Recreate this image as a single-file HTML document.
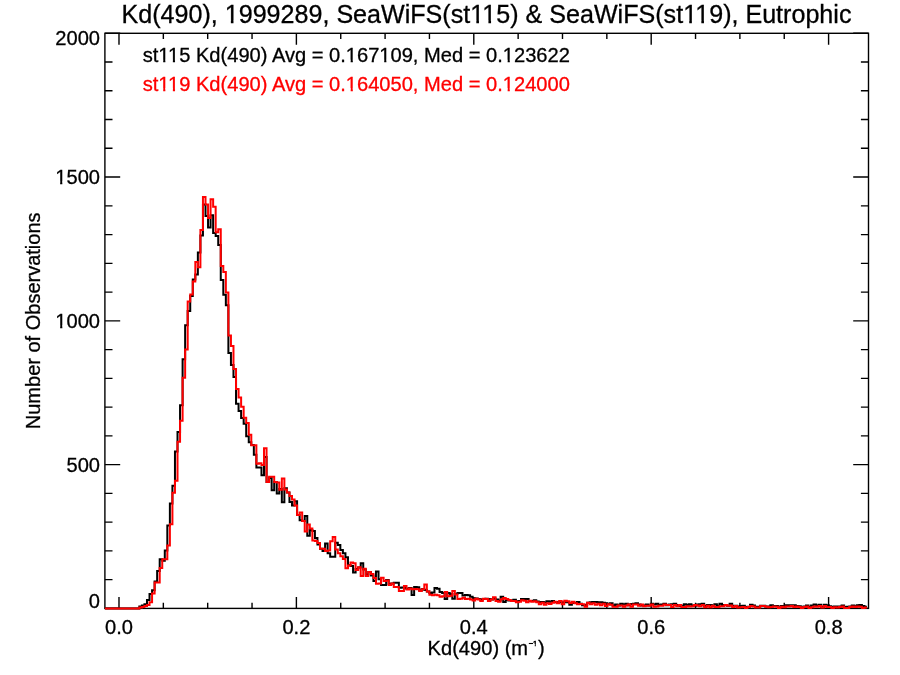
<!DOCTYPE html><html><head><meta charset="utf-8"><style>html,body{margin:0;padding:0;background:#fff;}svg{display:block;will-change:transform;}text{font-family:"Liberation Sans",sans-serif;stroke-width:0.3px;}</style></head><body>
<svg width="900" height="675" viewBox="0 0 900 675">
<rect x="0" y="0" width="900" height="675" fill="#fff"/>
<text x="486.5" y="23.4" font-size="25.1" text-anchor="middle" fill="#000" stroke="#000">Kd(490), 1999289, SeaWiFS(st115) &amp; SeaWiFS(st119), Eutrophic</text>
<text x="142.7" y="62.2" font-size="20.1" fill="#000" stroke="#000">st115 Kd(490) Avg = 0.167109, Med = 0.123622</text>
<text x="142.7" y="90.6" font-size="20.1" fill="#f00" stroke="#f00">st119 Kd(490) Avg = 0.164050, Med = 0.124000</text>
<text x="100" y="608.3" font-size="20.1" text-anchor="end" fill="#000" stroke="#000">0</text>
<text x="100" y="471.8" font-size="20.1" text-anchor="end" fill="#000" stroke="#000">500</text>
<text x="100" y="327.8" font-size="20.1" text-anchor="end" fill="#000" stroke="#000">1000</text>
<text x="100" y="183.8" font-size="20.1" text-anchor="end" fill="#000" stroke="#000">1500</text>
<text x="100" y="45.1" font-size="20.1" text-anchor="end" fill="#000" stroke="#000">2000</text>
<text x="119.0" y="633.6" font-size="20.1" text-anchor="middle" fill="#000" stroke="#000">0.0</text>
<text x="296.4" y="633.6" font-size="20.1" text-anchor="middle" fill="#000" stroke="#000">0.2</text>
<text x="473.8" y="633.6" font-size="20.1" text-anchor="middle" fill="#000" stroke="#000">0.4</text>
<text x="651.2" y="633.6" font-size="20.1" text-anchor="middle" fill="#000" stroke="#000">0.6</text>
<text x="828.6" y="633.6" font-size="20.1" text-anchor="middle" fill="#000" stroke="#000">0.8</text>
<text x="427.6" y="655.1" font-size="20.1" fill="#000" stroke="#000">Kd(490) (m<tspan font-size="7.5" dy="-9.6" dx="0.6" stroke-width="0.55">&#8722;1</tspan><tspan dy="9.6" dx="0.8">)</tspan></text>
<text transform="translate(39.9,427.6) rotate(-90)" x="-1.6" y="0" font-size="20.0" fill="#000" stroke="#000">Number of Observations</text>
<rect x="225.75" y="20.62" width="5.10" height="4.28" fill="#fff"/>
<rect x="233.47" y="20.62" width="4.90" height="4.28" fill="#fff"/>
<rect x="471.24" y="20.62" width="5.10" height="4.28" fill="#fff"/>
<rect x="478.96" y="20.62" width="4.90" height="4.28" fill="#fff"/>
<rect x="483.33" y="20.62" width="5.10" height="4.28" fill="#fff"/>
<rect x="491.05" y="20.62" width="4.90" height="4.28" fill="#fff"/>
<rect x="684.14" y="20.62" width="5.10" height="4.28" fill="#fff"/>
<rect x="691.86" y="20.62" width="4.90" height="4.28" fill="#fff"/>
<rect x="696.24" y="20.62" width="5.10" height="4.28" fill="#fff"/>
<rect x="703.96" y="20.62" width="4.90" height="4.28" fill="#fff"/>
<rect x="158.96" y="59.80" width="4.22" height="3.90" fill="#fff"/>
<rect x="165.36" y="59.80" width="4.07" height="3.90" fill="#fff"/>
<rect x="168.64" y="59.80" width="4.22" height="3.90" fill="#fff"/>
<rect x="175.04" y="59.80" width="4.07" height="3.90" fill="#fff"/>
<rect x="346.44" y="59.80" width="4.22" height="3.90" fill="#fff"/>
<rect x="352.84" y="59.80" width="4.07" height="3.90" fill="#fff"/>
<rect x="379.97" y="59.80" width="4.22" height="3.90" fill="#fff"/>
<rect x="386.37" y="59.80" width="4.07" height="3.90" fill="#fff"/>
<rect x="503.41" y="59.80" width="4.22" height="3.90" fill="#fff"/>
<rect x="509.81" y="59.80" width="4.07" height="3.90" fill="#fff"/>
<rect x="158.96" y="88.20" width="4.22" height="3.90" fill="#fff"/>
<rect x="165.36" y="88.20" width="4.07" height="3.90" fill="#fff"/>
<rect x="168.64" y="88.20" width="4.22" height="3.90" fill="#fff"/>
<rect x="175.04" y="88.20" width="4.07" height="3.90" fill="#fff"/>
<rect x="346.44" y="88.20" width="4.22" height="3.90" fill="#fff"/>
<rect x="352.84" y="88.20" width="4.07" height="3.90" fill="#fff"/>
<rect x="503.41" y="88.20" width="4.22" height="3.90" fill="#fff"/>
<rect x="509.81" y="88.20" width="4.07" height="3.90" fill="#fff"/>
<rect x="55.93" y="325.40" width="4.22" height="3.90" fill="#fff"/>
<rect x="62.33" y="325.40" width="4.07" height="3.90" fill="#fff"/>
<rect x="55.93" y="181.40" width="4.22" height="3.90" fill="#fff"/>
<rect x="62.33" y="181.40" width="4.07" height="3.90" fill="#fff"/>
<rect x="532.75" y="644.04" width="2.01" height="2.96" fill="#fff"/>
<rect x="535.82" y="644.04" width="1.96" height="2.96" fill="#fff"/>
<path d="M118.99 608.4V596.90M118.99 33.3V44.80M163.34 608.4V602.65M163.34 33.3V39.05M207.69 608.4V602.65M207.69 33.3V39.05M252.04 608.4V602.65M252.04 33.3V39.05M296.39 608.4V596.90M296.39 33.3V44.80M340.74 608.4V602.65M340.74 33.3V39.05M385.09 608.4V602.65M385.09 33.3V39.05M429.44 608.4V602.65M429.44 33.3V39.05M473.79 608.4V596.90M473.79 33.3V44.80M518.14 608.4V602.65M518.14 33.3V39.05M562.49 608.4V602.65M562.49 33.3V39.05M606.84 608.4V602.65M606.84 33.3V39.05M651.19 608.4V596.90M651.19 33.3V44.80M695.54 608.4V602.65M695.54 33.3V39.05M739.89 608.4V602.65M739.89 33.3V39.05M784.24 608.4V602.65M784.24 33.3V39.05M828.59 608.4V596.90M828.59 33.3V44.80M104.9 608.40H120.20M868.5 608.40H853.20M104.9 579.64H112.50M868.5 579.64H860.90M104.9 550.89H112.50M868.5 550.89H860.90M104.9 522.13H112.50M868.5 522.13H860.90M104.9 493.38H112.50M868.5 493.38H860.90M104.9 464.62H120.20M868.5 464.62H853.20M104.9 435.87H112.50M868.5 435.87H860.90M104.9 407.12H112.50M868.5 407.12H860.90M104.9 378.36H112.50M868.5 378.36H860.90M104.9 349.60H112.50M868.5 349.60H860.90M104.9 320.85H120.20M868.5 320.85H853.20M104.9 292.09H112.50M868.5 292.09H860.90M104.9 263.34H112.50M868.5 263.34H860.90M104.9 234.58H112.50M868.5 234.58H860.90M104.9 205.83H112.50M868.5 205.83H860.90M104.9 177.07H120.20M868.5 177.07H853.20M104.9 148.32H112.50M868.5 148.32H860.90M104.9 119.56H112.50M868.5 119.56H860.90M104.9 90.81H112.50M868.5 90.81H860.90M104.9 62.05H112.50M868.5 62.05H860.90M104.9 33.30H120.20M868.5 33.30H853.20" stroke="#000" stroke-width="1.4" fill="none"/>
<rect x="104.9" y="33.3" width="763.60" height="575.10" stroke="#000" stroke-width="1.4" fill="none"/>
<path d="M104.9 608.4H139.34V606.5H141.89V605.6H144.43V604.3H146.98V600.1H149.52V593.9H152.07V590.3H154.61V581.5H157.15V571.1H159.70V559.2H162.24V560.7H164.79V550.4H167.33V525.5H169.88V503.5H172.42V485.8H174.96V451.4H177.51V431.9H180.05V405.2H182.60V359.3H185.14V325.2H187.69V311.0H190.23V296.0H192.77V279.5H195.32V274.4H197.86V252.4H200.41V235.5H202.95V204.4H205.50V216.0H208.04V227.4H210.58V215.2H213.13V233.0H215.67V236.0H218.22V245.0H220.76V280.0H223.31V294.8H225.85V305.2H228.39V353.0H230.94V365.0H233.48V377.0H236.03V403.7H238.57V411.0H241.12V418.0H243.66V423.7H246.20V436.3H248.75V442.2H251.29V445.0H253.84V454.8H256.38V467.4H258.93V467.4H261.47V475.3H264.02V457.0H266.56V482.0H269.10V478.0H271.65V490.3H274.19V482.0H276.74V493.4H279.28V489.0H281.83V502.2H284.37V488.3H286.91V492.4H289.46V502.0H292.00V505.5H294.55V501.3H297.09V515.0H299.64V520.3H302.18V520.9H304.72V516.1H307.27V535.7H309.81V530.0H312.36V531.0H314.90V538.0H317.45V544.5H319.99V548.7H322.53V551.1H325.08V543.4H327.62V553.2H330.17V556.8H332.71V556.8H335.26V542.8H337.80V545.0H340.34V550.0H342.89V553.2H345.43V557.3H347.98V565.0H350.52V566.0H353.07V572.4H355.61V569.0H358.15V567.5H360.70V563.3H363.24V569.5H365.79V574.5H368.33V572.0H370.88V575.5H373.42V581.0H375.96V571.5H378.51V579.2H381.05V584.9H383.60V584.9H386.14V580.1H388.69V584.0H391.23V583.5H393.77V582.8H396.32V582.8H398.86V587.8H401.41V587.5H403.95V588.0H406.50V589.0H409.04V588.0H411.58V594.9H414.13V586.9H416.67V587.2H419.22V590.4H421.76V589.0H424.31V590.0H426.85V591.5H429.39V593.1H431.94V592.5H434.48V588.0H437.03V588.8H439.57V592.0H442.12V593.0H444.66V598.9H447.20V593.0H449.75V594.0H452.29V598.7H454.84V594.0H457.38V592.9H459.93V593.0H462.47V595.6H465.01V595.1H467.56V595.3H470.10V596.7H472.65V598.2H475.19V598.5H477.74V599.0H480.28V599.5H482.82V599.0H485.37V598.7H487.91V599.1H490.46V599.5H493.00V598.5H495.55V599.5H498.09V600.5H500.63V596.7H503.18V602.0H505.72V600.0H508.27V600.5H510.81V600.5H513.36V599.7H515.90V601.5H518.45V601.0H520.99V599.0H523.53V599.0H526.08V599.0H528.62V601.0H531.17V601.0H533.71V600.3H536.26V601.5H538.80V602.0H541.34V602.0H543.89V602.5H546.43V601.3H548.98V601.7H551.52V601.0H554.07V602.0H556.61V602.3H559.15V602.3H561.70V602.3H564.24V602.3H566.79V602.3H569.33V604.7H571.88V603.0H574.42V602.7H576.96V602.0H579.51V603.7H582.05V605.3H584.60V605.0H587.14V602.7H589.69V602.3H592.23V602.0H594.77V602.0H597.32V602.3H599.86V602.3H602.41V602.7H604.95V603.3H607.50V604.3H610.04V603.3H612.58V605.5H615.13V604.5H617.67V605.5H620.22V603.7H622.76V604.5H625.31V603.7H627.85V605.3H630.39V604.1H632.94V603.7H635.48V603.3H638.03V604.5H640.57V605.5H643.12V605.5H645.66V604.5H648.20V605.5H650.75V603.7H653.29V604.5H655.84V603.7H658.38V604.9H660.93V604.5H663.47V603.7H666.01V605.3H668.56V604.5H671.10V604.2H673.65V603.8H676.19V605.0H678.74V606.0H681.28V605.8H683.82V604.2H686.37V605.0H688.91V604.2H691.46V605.4H694.00V605.8H696.55V604.6H699.09V604.2H701.63V603.8H704.18V606.0H706.72V605.0H709.27V605.0H711.81V605.8H714.36V604.2H716.90V605.8H719.44V603.8H721.99V605.0H724.53V605.0H727.08V605.8H729.62V603.8H732.17V605.8H734.71V605.7H737.25V606.8H739.80V606.1H742.34V605.8H744.89V607.1H747.43V606.7H749.98V604.8H752.52V605.6H755.06V606.8H757.61V606.8H760.15V605.7H762.70V605.7H765.24V606.4H767.79V606.5H770.33V605.2H772.88V605.9H775.42V605.9H777.96V607.6H780.51V605.9H783.05V606.5H785.60V605.2H788.14V605.2H790.69V605.2H793.23V605.2H795.77V605.9H798.32V606.2H800.86V607.4H803.41V606.5H805.95V605.6H808.50V607.1H811.04V605.5H813.58V604.6H816.13V605.5H818.67V604.8H821.22V607.1H823.76V604.8H826.31V605.2H828.85V606.2H831.39V607.1H833.94V606.5H836.48V606.4H839.03V606.5H841.57V605.6H844.12V607.1H846.66V606.7H849.20V606.5H851.75V605.6H854.29V606.2H856.84V605.2H859.38V604.9H861.93V606.1H864.47V606.8H867.01" stroke="#000" stroke-width="2" fill="none" stroke-linejoin="miter" stroke-linecap="butt"/>
<path d="M104.9 608.4H139.34V607.5H141.89V607.0H144.43V606.0H146.98V605.0H149.52V602.2H152.07V593.4H154.61V582.5H157.15V582.5H159.70V568.0H162.24V559.2H164.79V559.2H167.33V545.5H169.88V524.2H172.42V492.7H174.96V480.8H177.51V441.8H180.05V420.7H182.60V377.7H185.14V349.6H187.69V301.6H190.23V294.5H192.77V281.5H195.32V261.9H197.86V267.3H200.41V230.0H202.95V197.0H205.50V204.4H208.04V218.1H210.58V199.3H213.13V206.7H215.67V232.2H218.22V229.2H220.76V265.9H223.31V271.9H225.85V292.6H228.39V335.6H230.94V345.9H233.48V368.9H236.03V389.0H238.57V397.5H241.12V406.7H243.66V417.8H246.20V423.0H248.75V434.8H251.29V445.2H253.84V445.2H256.38V463.7H258.93V463.3H261.47V464.9H264.02V448.3H266.56V482.0H269.10V476.8H271.65V476.8H274.19V482.0H276.74V482.5H279.28V489.8H281.83V478.4H284.37V489.5H286.91V492.4H289.46V496.0H292.00V499.6H294.55V505.5H297.09V515.0H299.64V512.6H302.18V520.9H304.72V531.6H307.27V524.4H309.81V528.6H312.36V540.4H314.90V541.0H317.45V543.0H319.99V548.7H322.53V548.7H325.08V551.0H327.62V550.6H330.17V541.3H332.71V537.1H335.26V549.6H337.80V553.2H340.34V556.3H342.89V558.9H345.43V568.2H347.98V565.6H350.52V562.5H353.07V563.3H355.61V570.0H358.15V567.3H360.70V576.0H363.24V568.7H365.79V576.0H368.33V571.9H370.88V574.0H373.42V578.1H375.96V583.8H378.51V583.4H381.05V577.7H383.60V581.0H386.14V580.4H388.69V585.1H391.23V583.4H393.77V586.9H396.32V586.9H398.86V591.1H401.41V591.1H403.95V586.0H406.50V589.6H409.04V588.4H411.58V589.3H414.13V589.0H416.67V589.3H419.22V590.9H421.76V589.3H424.31V584.5H426.85V591.5H429.39V594.7H431.94V595.2H434.48V594.7H437.03V595.2H439.57V596.8H442.12V596.3H444.66V592.0H447.20V596.3H449.75V595.8H452.29V591.1H454.84V594.4H457.38V599.1H459.93V598.7H462.47V597.8H465.01V599.1H467.56V598.7H470.10V599.6H472.65V600.4H475.19V598.7H477.74V599.6H480.28V600.9H482.82V598.7H485.37V599.1H487.91V600.9H490.46V599.6H493.00V597.3H495.55V601.0H498.09V601.7H500.63V599.3H503.18V598.0H505.72V599.0H508.27V600.0H510.81V601.0H513.36V601.0H515.90V602.3H518.45V601.7H520.99V600.3H523.53V600.7H526.08V602.3H528.62V600.7H531.17V601.7H533.71V601.3H536.26V602.3H538.80V604.3H541.34V602.7H543.89V604.7H546.43V603.3H548.98V604.0H551.52V602.7H554.07V601.7H556.61V603.3H559.15V601.0H561.70V604.3H564.24V600.7H566.79V601.3H569.33V603.0H571.88V601.7H574.42V603.3H576.96V604.3H579.51V604.0H582.05V604.3H584.60V606.7H587.14V602.7H589.69V604.3H592.23V603.3H594.77V604.7H597.32V603.7H599.86V605.3H602.41V603.7H604.95V606.0H607.50V604.3H610.04V604.7H612.58V606.8H615.13V606.8H617.67V605.4H620.22V605.4H622.76V606.8H625.31V605.4H627.85V604.6H630.39V606.8H632.94V604.6H635.48V604.6H638.03V605.8H640.57V604.6H643.12V606.2H645.66V605.8H648.20V605.8H650.75V604.6H653.29V606.8H655.84V606.6H658.38V605.8H660.93V605.8H663.47V604.6H666.01V605.0H668.56V605.0H671.10V607.0H673.65V605.0H676.19V606.2H678.74V605.0H681.28V607.0H683.82V607.0H686.37V606.2H688.91V606.6H691.46V606.2H694.00V605.0H696.55V605.4H699.09V606.2H701.63V605.0H704.18V607.2H706.72V605.8H709.27V607.2H711.81V605.8H714.36V607.0H716.90V607.0H719.44V606.2H721.99V606.2H724.53V605.0H727.08V605.8H729.62V605.4H732.17V607.0H734.71V606.0H737.25V607.6H739.80V607.3H742.34V607.0H744.89V607.9H747.43V607.0H749.98V606.0H752.52V606.4H755.06V607.6H757.61V607.6H760.15V606.0H762.70V606.0H765.24V606.7H767.79V607.3H770.33V607.0H772.88V606.4H775.42V606.7H777.96V607.9H780.51V606.7H783.05V607.3H785.60V606.4H788.14V606.4H790.69V606.0H793.23V607.0H795.77V606.4H798.32V607.0H800.86V607.9H803.41V607.0H805.95V606.4H808.50V607.9H811.04V607.3H813.58V606.4H816.13V606.7H818.67V606.0H821.22V607.6H823.76V606.0H826.31V607.0H828.85V607.0H831.39V607.9H833.94V607.3H836.48V607.6H839.03V607.0H841.57V606.4H844.12V607.9H846.66V607.9H849.20V607.0H851.75V606.4H854.29V607.0H856.84V606.4H859.38V606.7H861.93V607.9H864.47V607.6H867.01" stroke="#f00" stroke-width="2" fill="none" stroke-linejoin="miter" stroke-linecap="butt"/>
</svg></body></html>
